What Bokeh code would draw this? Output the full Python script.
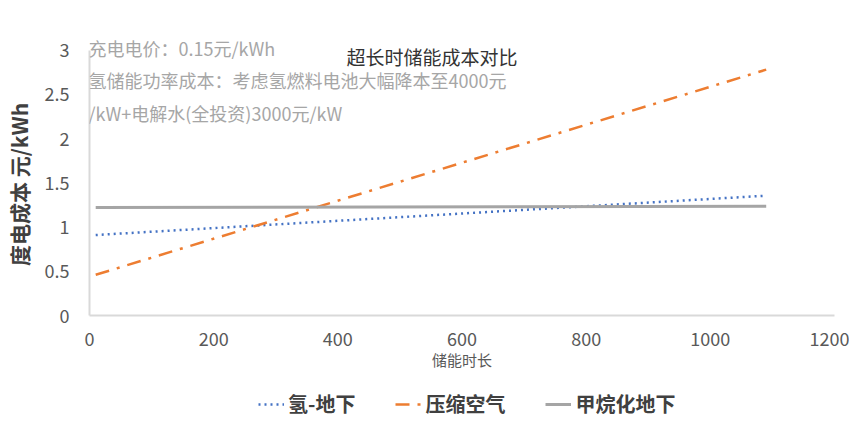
from bokeh.plotting import figure
from bokeh.layouts import column
from bokeh.models import Range1d, FixedTicker, Label, Legend, LegendItem
from bokeh.embed import file_html
from bokeh.resources import INLINE

FONT = "Noto Sans CJK SC"

# data
hours = [10, 1090]
h2_underground = [0.91, 1.355]
compressed_air = [0.46, 2.78]
methanation = [1.22, 1.235]
series_names = ["氢-地下", "压缩空气", "甲烷化地下"]
series_colors = ["#4472c4", "#ed7d31", "#a5a5a5"]
series_dash = ["2 4", "14 8 3 8", "solid"]
series_width = [2.5, 2.5, 3]

x_ticks = [0, 200, 400, 600, 800, 1000, 1200]
y_ticks = [0, 0.5, 1, 1.5, 2, 2.5, 3]
y_tick_labels = ["0", "0.5", "1", "1.5", "2", "2.5", "3"]

title_text = "超长时储能成本对比"
note_lines = ["充电电价：0.15元/kWh",
              "氢储能功率成本：考虑氢燃料电池大幅降本至4000元",
              "/kW+电解水(全投资)3000元/kW"]
x_label = "储能时长"
y_label = "度电成本 元/kWh"

p = figure(width=849, height=372, output_backend="svg", toolbar_location=None,
           x_range=Range1d(0, 1200), y_range=Range1d(0, 3.2),
           min_border_left=87, min_border_right=15, min_border_top=32, min_border_bottom=54)
p.outline_line_color = None
p.xgrid.grid_line_color = None
p.ygrid.grid_line_color = None
p.background_fill_color = "white"

for ax in (p.xaxis[0], p.yaxis[0]):
    ax.axis_line_color = "#d9d9d9"
    ax.axis_line_width = 2
    ax.major_tick_line_color = None
    ax.minor_tick_line_color = None
    ax.major_label_text_font = FONT
    ax.major_label_text_font_size = "18px"
    ax.major_label_text_color = "#595959"

p.yaxis.bounds = (0, 3)
p.xaxis.ticker = FixedTicker(ticks=x_ticks)
p.yaxis.ticker = FixedTicker(ticks=y_ticks)
p.yaxis.major_label_overrides = {t: l for t, l in zip(y_ticks, y_tick_labels)}
p.xaxis.major_label_standoff = 10
p.yaxis.major_label_standoff = 14

p.xaxis.axis_label = x_label
p.xaxis.axis_label_text_font = FONT
p.xaxis.axis_label_text_font_size = "15px"
p.xaxis.axis_label_text_font_style = "normal"
p.xaxis.axis_label_text_color = "#595959"
p.xaxis.axis_label_standoff = 0

p.yaxis.axis_label = y_label + "\u3000"
p.yaxis.axis_label_text_font = FONT
p.yaxis.axis_label_text_font_size = "21px"
p.yaxis.axis_label_text_font_style = "bold"
p.yaxis.axis_label_text_color = "#404040"
p.yaxis.axis_label_standoff = 8

for ys, c, d, w in zip([h2_underground, compressed_air, methanation], series_colors, series_dash, series_width):
    p.line(hours, ys, line_color=c, line_width=w, line_dash=d)

p.add_layout(Label(x=414, y=2.93, text=title_text, text_font=FONT, text_font_size="19px",
                   text_color="#333333", text_baseline="middle"))
for i, line in enumerate(note_lines):
    p.add_layout(Label(x=0, y=3.03 - i * 0.37, text=line, text_font=FONT, text_font_size="18px",
                       text_color="#a6a6a6", text_baseline="middle", x_offset=-1))

# legend strip (same series, drawn outside this strip's visible range so only the legend shows)
q = figure(width=849, height=50, output_backend="svg", toolbar_location=None,
           x_range=Range1d(0, 1200), y_range=Range1d(10, 11), x_axis_type=None, y_axis_type=None,
           min_border=0)
q.outline_line_color = None
q.xgrid.grid_line_color = None
q.ygrid.grid_line_color = None
leg_renderers = [q.line(hours, ys, line_color=c, line_width=w, line_dash=d)
                 for ys, c, d, w in zip([h2_underground, compressed_air, methanation],
                                        series_colors, series_dash, series_width)]
legend = Legend(items=[LegendItem(label=n, renderers=[r]) for n, r in zip(series_names, leg_renderers)],
                location=(169, 4), orientation="horizontal",
                label_text_font=FONT, label_text_font_size="20px", label_text_font_style="bold",
                label_text_color="#404040", glyph_width=26, label_standoff=4, spacing=40,
                border_line_color=None, background_fill_alpha=0, padding=2, margin=0)
q.add_layout(legend, "center")

open("out.html", "w").write(file_html(column(p, q, spacing=0), INLINE))
